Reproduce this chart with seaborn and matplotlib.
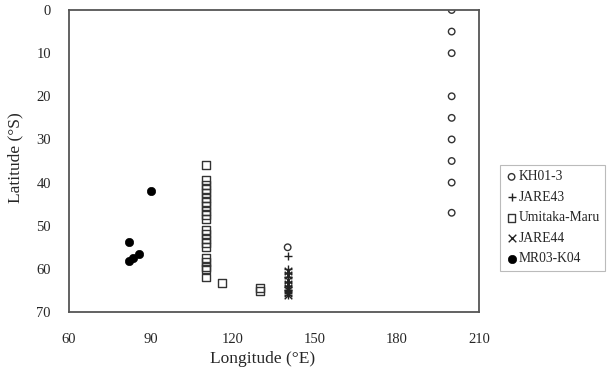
import matplotlib
matplotlib.use("Agg")
import matplotlib.pyplot as plt
import seaborn as sns
import pandas as pd

# ---- data ----
kh_lon = [200, 200, 200, 200, 200, 200, 200, 200, 200, 140]
kh_lat = [0, 5, 10, 20, 25, 30, 35, 40, 47, 55]

jare43_lon = [140] * 8
jare43_lat = [57, 60, 61, 62, 63, 64, 65, 66]

umi_lon = [110] * 21 + [116, 130, 130]
umi_lat = [36, 39.5, 40.5, 41.5, 42.5, 43.5, 44.5, 45.5, 46.5, 47.5, 48.5,
           51, 52, 53, 54, 55, 57.5, 58.5, 59.5, 60, 62,
           63.3, 64.5, 65.2]

jare44_lon = [140] * 8
jare44_lat = [60.5, 61.5, 62.5, 63.5, 64.5, 65, 65.5, 66]

mr_lon = [90, 82, 85.5, 83.5, 82]
mr_lat = [42, 53.7, 56.5, 57.5, 58.2]

series_names = ["KH01-3", "JARE43", "Umitaka-Maru", "JARE44", "MR03-K04"]
xticks = [60, 90, 120, 150, 180, 210]
yticks = [0, 10, 20, 30, 40, 50, 60, 70]

sns.set_style("white")
plt.rcParams["font.family"] = ["Liberation Serif", "DejaVu Serif"]

fig = plt.figure(figsize=(6.13, 3.81), dpi=100)
ax = fig.add_axes([69 / 613, 1 - 312 / 381, 410 / 613, 302 / 381])

styles = [
    (kh_lon, kh_lat, dict(marker="o", s=22, facecolors="none", edgecolors="#333333", linewidths=1.0)),
    (jare43_lon, jare43_lat, dict(marker="+", s=40, color="#222222", linewidths=1.0)),
    (umi_lon, umi_lat, dict(marker="s", s=32, facecolors="none", edgecolors="#333333", linewidths=1.0)),
    (jare44_lon, jare44_lat, dict(marker="x", s=30, color="#222222", linewidths=1.0)),
    (mr_lon, mr_lat, dict(marker="o", s=36, color="black", edgecolors="black")),
]

for name, (lon, lat, kw) in zip(series_names, styles):
    df = pd.DataFrame({"lon": lon, "lat": lat})
    sns.scatterplot(data=df, x="lon", y="lat", ax=ax, label=name, **kw)

ax.set_xlim(60, 210)
ax.set_ylim(70, 0)
ax.set_xticks(xticks)
ax.set_yticks(yticks)
ax.tick_params(axis="both", labelsize=10.5, length=2, direction="in", color="#cccccc", pad=15)
ax.tick_params(axis="y", pad=13)
for sp in ax.spines.values():
    sp.set_visible(True)
    sp.set_color("#555555")
    sp.set_linewidth(1.3)

ax.set_xlabel("Longitude (\u00b0E)", fontsize=12.5)
ax.set_ylabel("Latitude (\u00b0S)", fontsize=12.5)
ax.xaxis.set_label_coords(0.473, -0.13)
ax.yaxis.set_label_coords(-0.112, 0.51)

leg = ax.legend(loc="upper left", bbox_to_anchor=(500 / 613, 1 - 165 / 381),
                bbox_transform=fig.transFigure, frameon=True, fancybox=False,
                fontsize=9.8, handletextpad=0.05, handlelength=0.9,
                borderpad=0.4, labelspacing=0.55, borderaxespad=0)
leg.get_frame().set_edgecolor("#aaaaaa")
leg.get_frame().set_linewidth(0.8)

fig.savefig("out.png", dpi=100)
